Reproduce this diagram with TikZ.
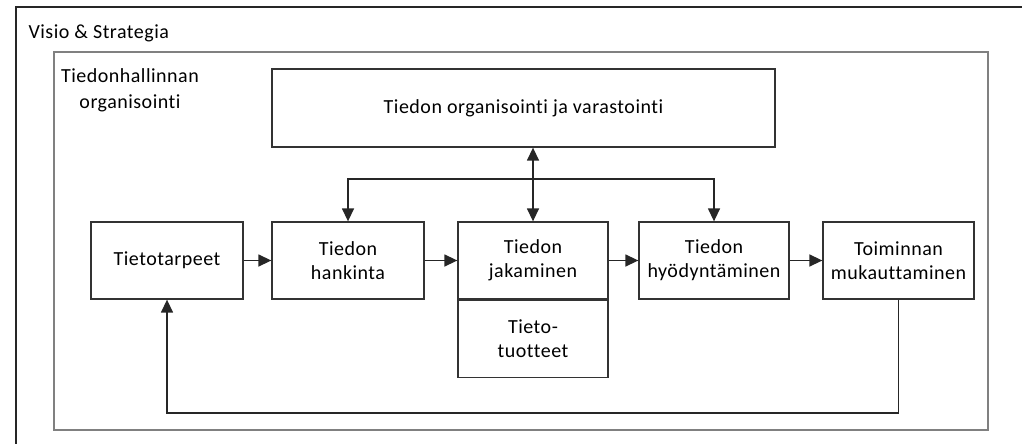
\documentclass[tikz,border=0pt]{standalone}
\usepackage{fontspec}
\setmainfont[LetterSpace=2.5,Ligatures=NoCommon]{Carlito}
\usetikzlibrary{arrows.meta}

\begin{document}
\begin{tikzpicture}[x=1pt,y=-1pt,>={Triangle[length=13pt,width=12pt]},
    box/.style={draw=black!80,line width=1.3pt,fill=white,align=center,
      minimum height=77pt,inner sep=2pt,font=\fontsize{20}{24}\selectfont},
    link/.style={->,draw=black!85,line width=1.4pt}]
  \useasboundingbox (0,0) rectangle (1022,444);
  \clip (0,0) rectangle (1022,444);
  % frames
  \draw[black!85,line width=1.4pt] (16,7) rectangle (1100,500);
  \draw[black!50,line width=2pt] (54,52) rectangle (988,430);
  \node[anchor=west,font=\fontsize{20}{24}\selectfont] (visio) at (25,33) {Visio \& Strategia};
  \node[align=center,font=\fontsize{20}{26}\selectfont] (org) at (130,90) {Tiedonhallinnan\\organisointi};
  % boxes
  \node[box,minimum width=503pt,minimum height=78pt] (store) at (523.5,108) {Tiedon organisointi ja varastointi};
  \node[box,minimum width=152pt] (needs) at (167,260.5) {Tietotarpeet};
  \node[box,minimum width=152pt] (acquire) at (348,260.5) {Tiedon\\hankinta};
  \node[box,minimum width=150pt] (share) at (533,260.5) {Tiedon\\jakaminen};
  \node[box,minimum width=150pt,anchor=north] (products) at (share.south) {Tieto-\\tuotteet};
  \node[box,minimum width=150pt] (use) at (714,260.5) {Tiedon\\hyödyntäminen};
  \node[box,minimum width=151pt] (adapt) at (898.5,260.5) {Toiminnan\\mukauttaminen};
  % connectors
  \coordinate (junction) at (share |- 0,179);
  \coordinate (loop) at (needs |- 0,413);
  \draw[link] (needs) -- (acquire);
  \draw[link] (acquire) -- (share);
  \draw[link] (share) -- (use);
  \draw[link] (use) -- (adapt);
  \draw[link,<->] (store.south -| share) -- (share.north);
  \draw[link] (junction) -| (acquire.north);
  \draw[link] (junction) -| (use.north);
  \draw[link] (adapt.south) |- (loop) -- (needs.south);
\end{tikzpicture}
\end{document}
